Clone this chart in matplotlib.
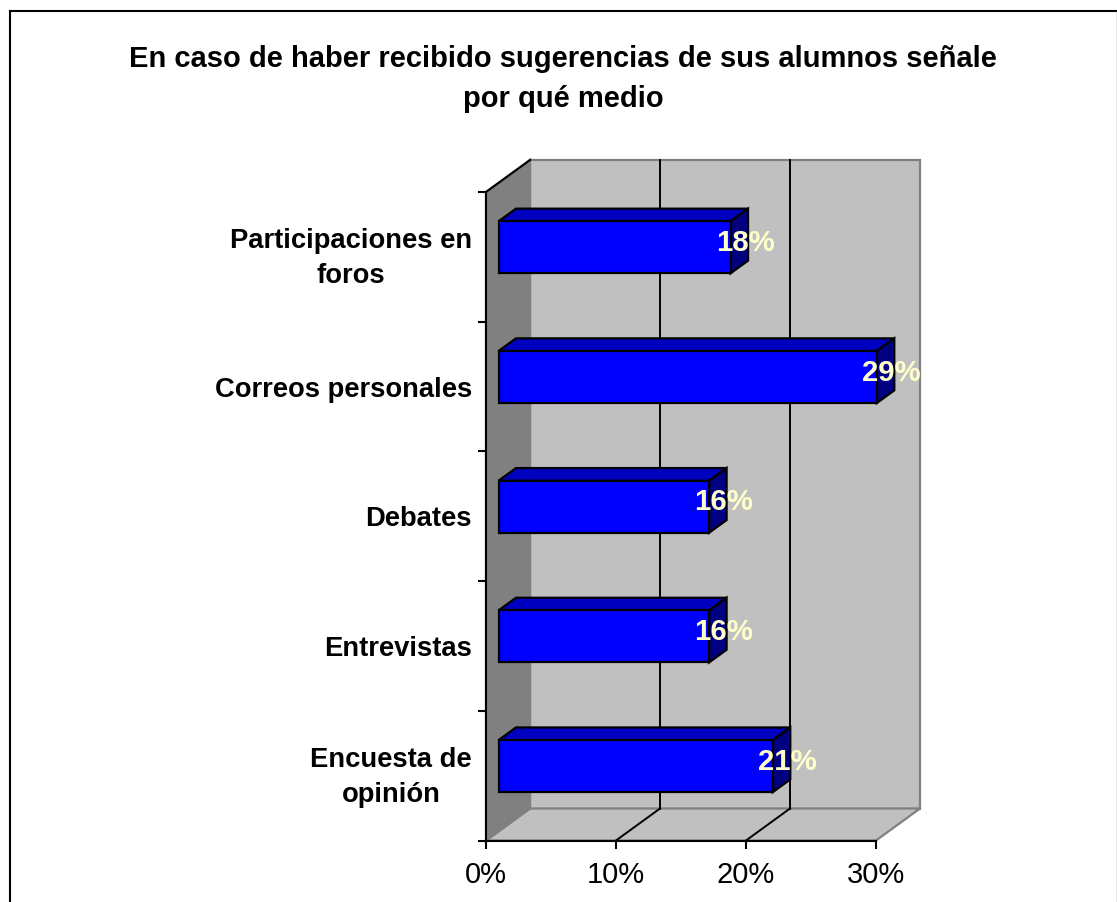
import matplotlib
matplotlib.use("Agg")
import matplotlib.pyplot as plt
from matplotlib.lines import Line2D

plt.rcParams['font.family'] = ['Liberation Sans', 'DejaVu Sans']

title = "En caso de haber recibido sugerencias de sus alumnos señale\npor qué medio"
categories = ["Encuesta de\nopinión", "Entrevistas", "Debates", "Correos personales", "Participaciones en\nforos"]
values = [21.1, 16.2, 16.2, 29.1, 17.85]
x_ticks = [0, 10, 20, 30]
x_tick_labels = ["0%", "10%", "20%", "30%"]

W, H = 1117, 902
fig = plt.figure(figsize=(W / 100, H / 100), dpi=100, facecolor="white")

# figure frame (bottom edge falls outside the picture)
def fx(p): return p / W
def fy(p): return 1 - p / H
fig.add_artist(Line2D([fx(10), fx(10)], [fy(902), fy(11)], color="black", lw=1.5))
fig.add_artist(Line2D([fx(10), fx(1116)], [fy(11), fy(11)], color="black", lw=1.5))
fig.add_artist(Line2D([fx(1116.5), fx(1116.5)], [fy(11), fy(902)], color="#808080", lw=1.0))

L, R, T, B = 486.0, 876.0, 192.0, 840.5
ax = fig.add_axes([L / W, 1 - B / H, (R - L) / W, (B - T) / H])
ax.set_xlim(0, 30)
ax.set_ylim(0, 5)
ax.patch.set_visible(False)
for s in ("top", "right"):
    ax.spines[s].set_visible(False)
for s in ("left", "bottom"):
    ax.spines[s].set_linewidth(1.5)
    ax.spines[s].set_zorder(6)

px = 30 / (R - L)   # data units per pixel in x
py = 5 / (B - T)    # data units per pixel in y
DX, DY = 44 * px, 32 * py

WALL, SIDE, EDGE = "#C0C0C0", "#808080", "#808080"
kw = dict(clip_on=False)
# back wall
ax.fill([DX, 30 + DX, 30 + DX, DX], [DY, DY, 5 + DY, 5 + DY], fc=WALL, ec=EDGE, lw=1.6, zorder=1, **kw)
# floor
ax.fill([0, 30, 30 + DX, DX], [0, 0, DY, DY], fc=WALL, ec=EDGE, lw=1.6, zorder=1, **kw)
# side wall
ax.fill([0, DX, DX, 0], [0, DY, 5 + DY, 5], fc=SIDE, ec=EDGE, lw=1.6, zorder=1, **kw)
ax.plot([0, DX], [5, 5 + DY], color="black", lw=1.5, zorder=2, **kw)

# gridlines on wall and floor
for t in x_ticks[1:-1]:
    ax.plot([t + DX, t + DX], [DY, 5 + DY], color="black", lw=1.4, zorder=2, **kw)
    ax.plot([t, t + DX], [0, DY], color="black", lw=1.4, zorder=2, **kw)

# bars
ys = [i + 0.5 for i in range(len(categories))]
off_x, off_y = 12.5 * px, 9.5 * py
bar_h = 52 * py
bx, by = 17.5 * px, 12.7 * py
for y, v in zip(ys, values):
    yc = y + off_y
    lo, hi = yc - bar_h / 2, yc + bar_h / 2
    x0, x1 = off_x, off_x + v
    ax.fill([x0, x1, x1 + bx, x0 + bx], [hi, hi, hi + by, hi + by], fc="#0000C0", ec="black", lw=1.6, zorder=3, **kw)
    ax.fill([x1, x1 + bx, x1 + bx, x1], [lo, lo + by, hi + by, hi], fc="#000080", ec="black", lw=1.6, zorder=3, **kw)
    ax.barh(yc, v, left=x0, height=bar_h, color="#0000FF", edgecolor="black", linewidth=1.6, zorder=4, clip_on=False)
    ax.text(x1 + 14.5 * px, yc + 4.5 * py, f"{v:.0f}%", ha="center", va="center", fontsize=21.2,
            fontweight="bold", color="#FFFFCC", zorder=5, clip_on=False)

# ticks
ax.set_xticks(x_ticks)
ax.set_xticklabels(x_tick_labels, fontsize=21.0)
ax.tick_params(axis="x", length=6, width=1.5, pad=9)
ax.set_yticks(range(6))
ax.set_yticklabels([])
ax.tick_params(axis="y", which="major", length=6, width=1.5)
# two-line labels sit a little higher than the category centre
label_ys = [y + (5.5 * py if "\n" in c else 0) for y, c in zip(ys, categories)]
ax.set_yticks(label_ys, minor=True)
ax.set_yticklabels(categories, minor=True, fontsize=19.7, fontweight="bold", multialignment="center", linespacing=1.45)
ax.tick_params(axis="y", which="minor", length=0, pad=10)

fig.text(563 / W, 1 - 79 / H, title, ha="center", va="center", fontsize=20.95, fontweight="bold", linespacing=1.52)

fig.savefig("out.png", dpi=100)
